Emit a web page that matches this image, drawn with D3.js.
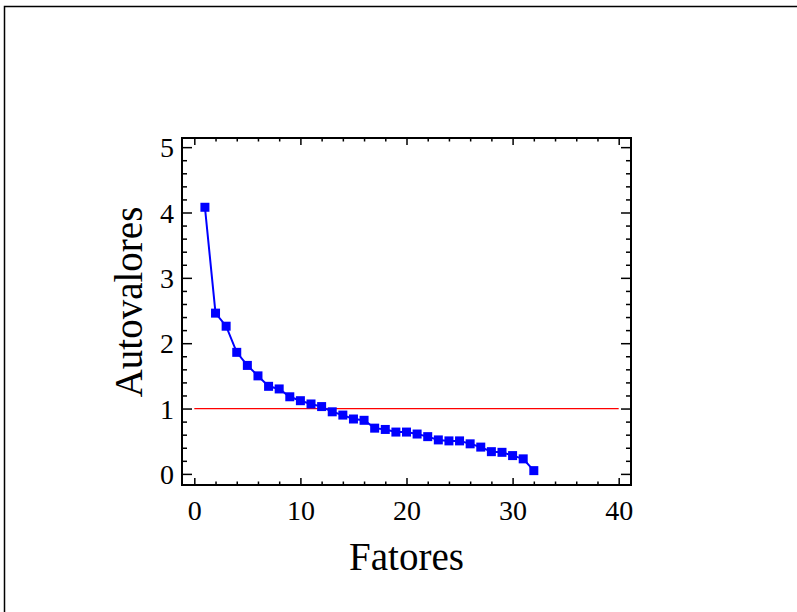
<!DOCTYPE html>
<html><head><meta charset="utf-8">
<script src="https://cdn.jsdelivr.net/npm/d3@7/dist/d3.min.js"></script>
<style>body{margin:0;background:#fff}svg{display:block}</style>
</head><body>
<svg id="c" width="797" height="612"></svg>
<script>
const fatores = d3.range(1, 33);
const autovalores = [4.08, 2.46, 2.26, 1.86, 1.66, 1.50, 1.34, 1.30, 1.18, 1.12, 1.07, 1.03,
  0.95, 0.90, 0.84, 0.82, 0.70, 0.68, 0.64, 0.64, 0.61, 0.57, 0.52, 0.505, 0.505, 0.46,
  0.41, 0.34, 0.33, 0.28, 0.23, 0.05];
const refLevel = [1];
const refRange = [0, 40];
const xTicks = [0, 10, 20, 30, 40];
const yTicks = [0, 1, 2, 3, 4, 5];
const xLabel = "Fatores";
const yLabel = "Autovalores";

const svg = d3.select("#c");
const L = 182, R = 631, T = 138, B = 485;
const x = d3.scaleLinear().domain([-1.16, 41.16]).range([L, R]);
const y = d3.scaleLinear().domain([-0.17, 5.14]).range([B, T]);
const font = "'Liberation Serif','Times New Roman',serif";

// outer frame
svg.append("rect").attr("x", 4.5).attr("y", 6.5).attr("width", 820).attr("height", 640)
  .attr("fill", "none").attr("stroke", "#000").attr("stroke-width", 1.5);

const xMinor = d3.range(0, 41, 2).filter(v => v % 10 !== 0);
const yMinor = d3.range(0, 5.01, 0.2).map(v => +v.toFixed(1)).filter(v => Math.abs(v - Math.round(v)) > 1e-6);

function ax(gen, tx, ty, vals, size, labels) {
  const g = svg.append("g").attr("transform", `translate(${tx},${ty})`)
    .call(gen.tickValues(vals).tickSizeInner(size).tickSizeOuter(0).tickPadding(8)
      .tickFormat(labels ? d3.format("d") : ""));
  g.select(".domain").remove();
  g.selectAll(".tick line").attr("stroke", "#000").attr("stroke-width", 1.5);
  g.selectAll("text").attr("font-family", font).attr("font-size", 28).attr("fill", "#000");
  return g;
}
// bottom
const gb = ax(d3.axisBottom(x), 0, B, xTicks, -7, true);
gb.selectAll("text").attr("dy", null).attr("y", 35);
ax(d3.axisBottom(x), 0, B, xMinor, -3.5, false);
// top
ax(d3.axisTop(x), 0, T, xTicks, -7, false);
ax(d3.axisTop(x), 0, T, xMinor, -3.5, false);
// left
const gl = ax(d3.axisLeft(y), L, 0, yTicks, -10, true);
gl.selectAll("text").attr("x", -8).attr("dy", "0.34em");
ax(d3.axisLeft(y), L, 0, yMinor, -5, false);
// right
ax(d3.axisRight(y), R, 0, yTicks, -10, false);
ax(d3.axisRight(y), R, 0, yMinor, -5, false);

// plot frame
svg.append("rect").attr("x", L).attr("y", T).attr("width", R - L).attr("height", B - T)
  .attr("fill", "none").attr("stroke", "#000").attr("stroke-width", 2);

// reference line
svg.append("line").attr("x1", x(refRange[0])).attr("x2", x(refRange[1]))
  .attr("y1", y(refLevel[0])).attr("y2", y(refLevel[0]))
  .attr("stroke", "#ff0000").attr("stroke-width", 1.2);

const pts = fatores.map((f, i) => [f, autovalores[i]]);
svg.append("path").datum(pts)
  .attr("d", d3.line().x(d => x(d[0])).y(d => y(d[1])))
  .attr("fill", "none").attr("stroke", "#0000ff").attr("stroke-width", 2);
svg.selectAll("rect.m").data(pts).enter().append("rect").attr("class", "m")
  .attr("x", d => x(d[0]) - 4.5).attr("y", d => y(d[1]) - 4.5)
  .attr("width", 9).attr("height", 9).attr("fill", "#0000ff");

svg.append("text").attr("x", (L + R) / 2).attr("y", 570).attr("text-anchor", "middle")
  .attr("font-family", font).attr("font-size", 39).text(xLabel);
svg.append("text").attr("transform", `translate(142,302) rotate(-90)`).attr("text-anchor", "middle")
  .attr("font-family", font).attr("font-size", 39).text(yLabel);
</script>
</body></html>
